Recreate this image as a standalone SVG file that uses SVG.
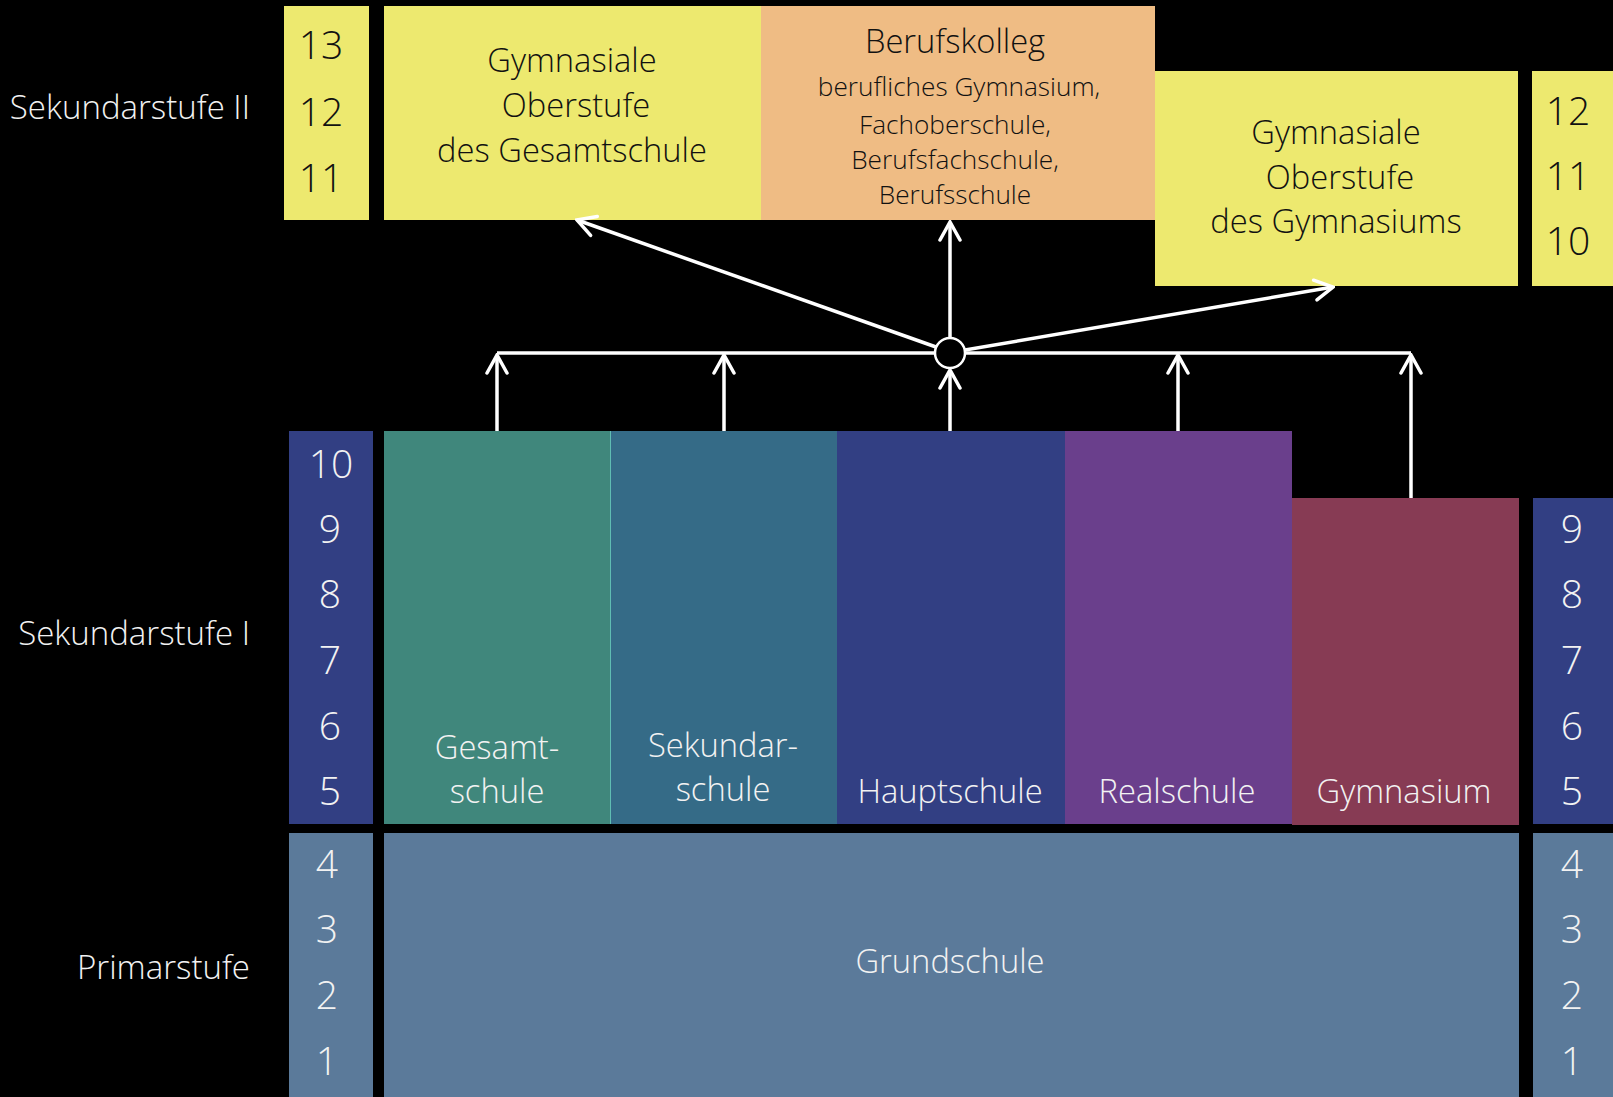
<svg xmlns="http://www.w3.org/2000/svg" width="1613" height="1097" viewBox="0 0 1613 1097">
<defs>
<style>
text{font-family:"Open Sans","Liberation Sans",sans-serif;font-weight:300;}
.lbl{font-size:32.7px;fill:#F2F2F2;text-anchor:middle;}
.lbk{font-size:32.7px;fill:#111;text-anchor:middle;}
.sub{font-size:26.2px;fill:#111;text-anchor:middle;}
.num{font-size:39px;fill:#F2F2F2;text-anchor:middle;}
.numk{font-size:39px;fill:#111;text-anchor:middle;}
.side{font-size:33px;fill:#F2F2F2;text-anchor:end;}
.yel{fill:#EDE96F;}
.org{fill:#EFBC84;}
.blu{fill:#323F83;}
.gru{fill:#5B7A9A;}
.con{stroke:#FFFFFF;stroke-width:3.5;fill:none;stroke-linecap:butt;}
</style>
<marker id="ah" viewBox="-22 -13 24 26" markerUnits="userSpaceOnUse" markerWidth="24" markerHeight="26" refX="0" refY="0" orient="auto">
<path d="M -18 -10 L 0 0 L -18 10" fill="none" stroke="#FFFFFF" stroke-width="3.5" stroke-linejoin="miter" stroke-linecap="round"/>
</marker>
</defs>
<rect x="0" y="0" width="1613" height="1097" fill="#000000"/>

<g id="stage-labels">
<text class="side" x="250" y="119">Sekundarstufe II</text>
<text class="side" x="250" y="645">Sekundarstufe I</text>
<text class="side" x="250" y="979">Primarstufe</text>
</g>

<g id="grades-sek2-left">
<rect class="yel" x="284" y="6" width="85" height="214"/>
<text class="numk" x="321" y="59">13</text>
<text class="numk" x="321" y="126">12</text>
<text class="numk" x="321" y="192">11</text>
</g>

<g id="oberstufe-gesamtschule">
<rect class="yel" x="384" y="6" width="377" height="214"/>
<text class="lbk" x="572" y="72">Gymnasiale</text>
<text class="lbk" x="576" y="117">Oberstufe</text>
<text class="lbk" x="572" y="162">des Gesamtschule</text>
</g>

<g id="berufskolleg">
<rect class="org" x="761" y="6" width="394" height="214"/>
<text class="lbk" x="955" y="53">Berufskolleg</text>
<text class="sub" x="959" y="96">berufliches Gymnasium,</text>
<text class="sub" x="955" y="134">Fachoberschule,</text>
<text class="sub" x="955" y="169">Berufsfachschule,</text>
<text class="sub" x="955" y="204">Berufsschule</text>
</g>

<g id="oberstufe-gymnasium">
<rect class="yel" x="1155" y="71" width="363" height="215"/>
<text class="lbk" x="1336" y="144">Gymnasiale</text>
<text class="lbk" x="1340" y="189">Oberstufe</text>
<text class="lbk" x="1336" y="233">des Gymnasiums</text>
</g>

<g id="grades-sek2-right">
<rect class="yel" x="1532" y="71" width="81" height="215"/>
<text class="numk" x="1568" y="125">12</text>
<text class="numk" x="1568" y="190">11</text>
<text class="numk" x="1568" y="255">10</text>
</g>

<g id="grades-sek1-left">
<rect class="blu" x="289" y="431" width="84" height="393"/>
<text class="num" x="331" y="478">10</text>
<text class="num" x="330" y="543">9</text>
<text class="num" x="330" y="608">8</text>
<text class="num" x="330" y="674">7</text>
<text class="num" x="330" y="740">6</text>
<text class="num" x="330" y="805">5</text>
</g>

<g id="gesamtschule">
<rect x="384" y="431" width="226" height="393" fill="#40877C"/>
<text class="lbl" x="497" y="759">Gesamt-</text>
<text class="lbl" x="497" y="803">schule</text>
</g>

<g id="sekundarschule">
<rect x="610" y="431" width="227" height="393" fill="#356B87"/>
<line x1="610.5" y1="431" x2="610.5" y2="824" stroke="#5FBDB3" stroke-width="1"/>
<text class="lbl" x="723" y="757">Sekundar-</text>
<text class="lbl" x="723" y="801">schule</text>
</g>

<g id="hauptschule">
<rect class="blu" x="837" y="431" width="228" height="393"/>
<text class="lbl" x="950" y="803">Hauptschule</text>
</g>

<g id="realschule">
<rect x="1065" y="431" width="227" height="393" fill="#6A3F8C"/>
<text class="lbl" x="1177" y="803">Realschule</text>
</g>

<g id="gymnasium">
<rect x="1292" y="498" width="227" height="327" fill="#873B54"/>
<text class="lbl" x="1404" y="803">Gymnasium</text>
</g>

<g id="grades-sek1-right">
<rect class="blu" x="1533" y="498" width="80" height="326"/>
<text class="num" x="1572" y="543">9</text>
<text class="num" x="1572" y="608">8</text>
<text class="num" x="1572" y="674">7</text>
<text class="num" x="1572" y="740">6</text>
<text class="num" x="1572" y="805">5</text>
</g>

<g id="grades-primar-left">
<rect class="gru" x="289" y="833" width="84" height="264"/>
<text class="num" x="327" y="878">4</text>
<text class="num" x="327" y="943">3</text>
<text class="num" x="327" y="1009">2</text>
<text class="num" x="327" y="1075">1</text>
</g>

<g id="grundschule">
<rect class="gru" x="384" y="833" width="1135" height="264"/>
<text class="lbl" x="950" y="973">Grundschule</text>
</g>

<g id="grades-primar-right">
<rect class="gru" x="1533" y="833" width="80" height="264"/>
<text class="num" x="1572" y="878">4</text>
<text class="num" x="1572" y="943">3</text>
<text class="num" x="1572" y="1009">2</text>
<text class="num" x="1572" y="1075">1</text>
</g>

<g id="connectors">
<line class="con" x1="497" y1="353" x2="1411" y2="353" stroke-width="4"/>
<line class="con" x1="497" y1="431" x2="497" y2="355" marker-end="url(#ah)"/>
<line class="con" x1="724" y1="431" x2="724" y2="355" marker-end="url(#ah)"/>
<line class="con" x1="950" y1="431" x2="950" y2="370" marker-end="url(#ah)"/>
<line class="con" x1="1178" y1="431" x2="1178" y2="355" marker-end="url(#ah)"/>
<line class="con" x1="1411" y1="498" x2="1411" y2="355" marker-end="url(#ah)"/>
<line class="con" x1="950" y1="338" x2="950" y2="222" marker-end="url(#ah)"/>
<line class="con" x1="936" y1="347" x2="577" y2="220" stroke-width="4" marker-end="url(#ah)"/>
<line class="con" x1="965" y1="350" x2="1333" y2="287" stroke-width="4" marker-end="url(#ah)"/>
<circle cx="950" cy="353" r="15" fill="#000000" stroke="#FFFFFF" stroke-width="2.5"/>
</g>
</svg>
